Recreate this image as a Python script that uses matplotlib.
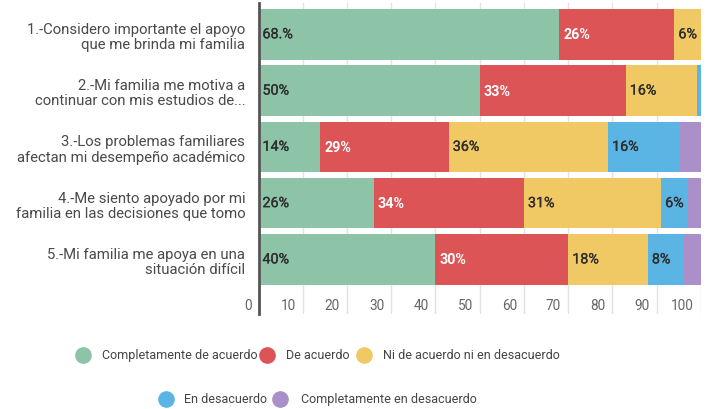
import matplotlib
matplotlib.use('Agg')
import matplotlib.pyplot as plt
import matplotlib.transforms as mtransforms
import matplotlib.patheffects as pe
import numpy as np

plt.rcParams['font.family'] = ['Roboto', 'DejaVu Sans']

categories = [
    "1.-Considero importante el apoyo\nque me brinda mi familia",
    "2.-Mi familia me motiva a\ncontinuar con mis estudios de...",
    "3.-Los problemas familiares\nafectan mi desempeño académico",
    "4.-Me siento apoyado por mi\nfamilia en las decisiones que tomo",
    "5.-Mi familia me apoya en una\nsituación difícil",
]
series_names = [
    "Completamente de acuerdo",
    "De acuerdo",
    "Ni de acuerdo ni en desacuerdo",
    "En desacuerdo",
    "Completamente en desacuerdo",
]
completamente_acuerdo = [68, 50, 14, 26, 40]
de_acuerdo = [26, 33, 29, 34, 30]
ni_ni = [6, 16, 36, 31, 18]
en_desacuerdo = [0, 1, 16, 6, 8]
completamente_desacuerdo = [0, 0, 5, 3, 4]

labels_completamente_acuerdo = ["68.%", "50%", "14%", "26%", "40%"]
labels_de_acuerdo = ["26%", "33%", "29%", "34%", "30%"]
labels_ni_ni = ["6%", "16%", "36%", "31%", "18%"]
labels_en_desacuerdo = ["", "", "16%", "6%", "8%"]
labels_completamente_desacuerdo = ["", "", "", "", ""]

x_ticks = [0, 10, 20, 30, 40, 50, 60, 70, 80, 90, 100]

colors = ["#8DC4A7", "#DC5456", "#F0C964", "#5BB5E4", "#AA8FC8"]
label_colors = ["#2E2E2E", "#FFFFFF", "#2E2E2E", "#2E2E2E", "#2E2E2E"]
label_weights = ["normal", "bold", "normal", "normal", "normal"]

series = [completamente_acuerdo, de_acuerdo, ni_ni, en_desacuerdo, completamente_desacuerdo]
series_labels = [labels_completamente_acuerdo, labels_de_acuerdo, labels_ni_ni,
                 labels_en_desacuerdo, labels_completamente_desacuerdo]

W, H = 711, 410
fig = plt.figure(figsize=(W / 100, H / 100), dpi=100)
ax_left, ax_right, ax_top, ax_bottom = 258.5, 701, 4, 315
ax = fig.add_axes([ax_left / W, 1 - ax_bottom / H, (ax_right - ax_left) / W, (ax_bottom - ax_top) / H])

y = np.arange(len(categories))
left = np.zeros(len(categories))
for vals, labs, c, lc, lw in zip(series, series_labels, colors, label_colors, label_weights):
    vals = np.array(vals, dtype=float)
    ax.barh(y, vals, left=left, height=0.9, color=c, zorder=2)
    for yi, (l, v, t) in enumerate(zip(left, vals, labs)):
        if t:
            tr = mtransforms.offset_copy(ax.transData, fig=fig, x=4, y=0, units='dots')
            txt = ax.text(l, yi, t, transform=tr, ha='left', va='center', color=lc,
                          fontsize=10.3, fontweight=lw, zorder=3)
            if lw == "normal":
                txt.set_path_effects([pe.withStroke(linewidth=0.2, foreground=lc)])
    left += vals

ax.set_xlim(0, 100)
ax.set_ylim(4.97, -0.556)
ax.set_xticks(x_ticks)
ax.set_xticklabels([])
ax.tick_params(axis='x', length=0)
ax.grid(axis='x', color='#E3E3E3', linewidth=1, zorder=0)
ax.set_axisbelow(True)
for s in ['top', 'right', 'bottom']:
    ax.spines[s].set_visible(False)
ax.spines['left'].set_color('#555555')
ax.spines['left'].set_linewidth(2)
ax.spines['left'].set_zorder(4)

tx = mtransforms.blended_transform_factory(ax.transData, ax.transAxes)
tx = mtransforms.offset_copy(tx, fig=fig, x=-7, y=0, units='dots')
for t in x_ticks:
    ax.text(t, 0.03, str(t), transform=tx, ha='right', va='center',
            fontsize=9.8, color='#666666')

ax.set_yticks(y)
ax.set_yticklabels(categories, fontsize=10.7, color='#4A4A4A', linespacing=1.12)
ax.tick_params(axis='y', length=0, pad=9.5)

# Legend
lax = fig.add_axes([0, 0, 1, 1])
lax.set_xlim(0, W)
lax.set_ylim(H, 0)
lax.axis('off')
legend_rows = [
    [(0, 82.7, 101.7), (1, 266.7, 286), (2, 364, 382.7)],
    [(3, 166, 184), (4, 280, 300.7)],
]
row_y = [356, 400]
for ry, row in zip(row_y, legend_rows):
    for idx, cx, tx0 in row:
        lax.plot([cx], [ry], marker='o', markersize=12, color=colors[idx],
                 markeredgewidth=0, linestyle='none')
        lax.text(tx0, ry, series_names[idx], ha='left', va='center',
                 fontsize=9.0, color='#444444')

fig.savefig('out.png', dpi=100)
